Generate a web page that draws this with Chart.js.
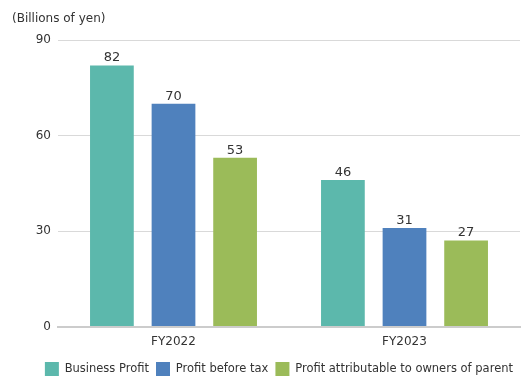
<!DOCTYPE html>
<html>
<head>
<meta charset="utf-8">
<script src="https://cdn.jsdelivr.net/npm/chart.js@4"></script>
<style>
  html, body { margin: 0; padding: 0; background: #fff; }
  #wrap { width: 530px; height: 391px; }
</style>
</head>
<body>
<div id="wrap"><canvas id="myChart" width="530" height="391"></canvas></div>
<script>
// categories and series
var years = ['FY2022', 'FY2023'];
var businessProfit = [82, 46];
var profitBeforeTax = [70, 31];
var profitOwners = [53, 27];
var yTicks = [0, 30, 60, 90];
var unitText = '(Billions of yen)';

Chart.defaults.font.family = 'DejaVu Sans';
Chart.defaults.font.size = 12;
Chart.defaults.color = '#333';

// value labels on top of bars + unit text top-left
var barLabels = {
  id: 'barLabels',
  afterDatasetsDraw: function(chart) {
    var ctx = chart.ctx;
    ctx.save();
    ctx.font = '13px DejaVu Sans';
    ctx.fillStyle = '#333';
    ctx.textAlign = 'center';
    ctx.textBaseline = 'bottom';
    chart.data.datasets.forEach(function(ds, i) {
      chart.getDatasetMeta(i).data.forEach(function(bar, j) {
        ctx.fillText(ds.data[j], bar.x, bar.y - 1);
      });
    });
    ctx.font = '12px DejaVu Sans';
    ctx.textAlign = 'left';
    ctx.textBaseline = 'middle';
    ctx.fillText(unitText, 12, 19);
    ctx.restore();
  }
};

var ctx = document.getElementById('myChart').getContext('2d');
var myChart = new Chart(ctx, {
  type: 'bar',
  data: {
    labels: years,
    datasets: [{
      label: 'Business Profit',
      data: businessProfit,
      backgroundColor: '#5cb8ac'
    }, {
      label: 'Profit before tax',
      data: profitBeforeTax,
      backgroundColor: '#4f81bd'
    }, {
      label: 'Profit attributable to owners of parent',
      data: profitOwners,
      backgroundColor: '#9bbb59'
    }]
  },
  options: {
    responsive: false,
    animation: false,
    categoryPercentage: 0.8,
    barPercentage: 0.71,
    layout: { padding: { left: 12, right: 10, top: 40, bottom: 5 } },
    plugins: {
      title: { display: false },
      legend: {
        position: 'bottom',
        align: 'end',
        labels: {
          boxWidth: 14,
          boxHeight: 14,
          padding: 7,
          color: '#333',
          font: { size: 11.5 }
        }
      },
      tooltip: { enabled: false }
    },
    scales: {
      x: {
        grid: { display: false },
        border: { color: '#ccc', width: 2 },
        ticks: { color: '#333', font: { size: 12 }, padding: 0 },
        afterFit: function(axis) { axis.height += 6; }
      },
      y: {
        min: 0,
        max: 90,
        afterBuildTicks: function(axis) {
          axis.ticks = yTicks.map(function(v) { return { value: v }; });
        },
        afterFit: function(axis) { axis.width = 46; },
        grid: { color: '#d9d9d9', drawTicks: false },
        border: { display: false },
        ticks: { color: '#333', font: { size: 12 }, padding: 7 }
      }
    }
  },
  plugins: [barLabels]
});
</script>
</body>
</html>
